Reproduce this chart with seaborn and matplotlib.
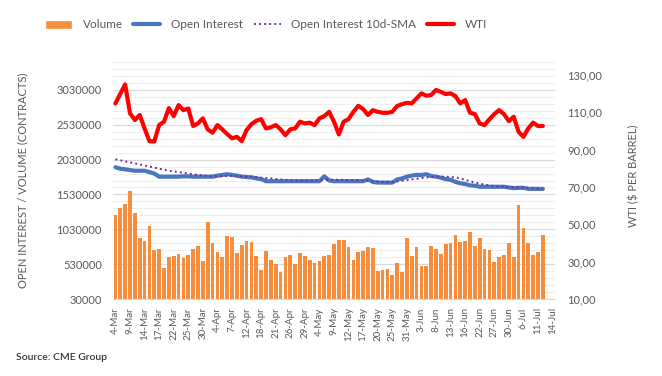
import numpy as np
import pandas as pd
import matplotlib
matplotlib.use('Agg')
import matplotlib.pyplot as plt
from matplotlib.ticker import FixedLocator, FuncFormatter
from matplotlib.lines import Line2D
from matplotlib.patches import Patch
import seaborn as sns

# trading days (CME holidays left out)
holidays = ['2022-04-15', '2022-05-30', '2022-06-20', '2022-07-04']
days = pd.bdate_range('2022-03-04', '2022-07-14', freq='C', holidays=holidays)
dates = [f'{d.day}-{d.strftime("%b")}' for d in days]

volume = [1236000, 1330000, 1390000, 1580000, 1260000, 906000, 860000, 1080000, 730000, 750000,
          470000, 630000, 650000, 680000, 620000, 660000, 750000, 790000, 575000, 1135000,
          830000, 700000, 630000, 930000, 920000, 690000, 805000, 860000, 850000, 650000,
          450000, 720000, 590000, 530000, 420000, 630000, 660000, 530000, 690000, 650000,
          590000, 550000, 575000, 645000, 660000, 815000, 870000, 870000, 770000, 590000,
          700000, 720000, 770000, 757000, 430000, 446000, 456000, 370000, 547000, 420000,
          905000, 650000, 776000, 500000, 500000, 790000, 750000, 676000, 820000, 830000,
          950000, 850000, 860000, 990000, 790000, 905000, 750000, 730000, 560000, 630000,
          660000, 830000, 630000, 1380000, 1050000, 830000, 660000, 700000, 950000]

open_interest = [1920000, 1900000, 1890000, 1880000, 1870000, 1870000, 1870000, 1850000, 1830000, 1785000,
                 1785000, 1785000, 1785000, 1785000, 1790000, 1790000, 1785000, 1785000, 1785000, 1785000,
                 1785000, 1800000, 1810000, 1820000, 1810000, 1800000, 1785000, 1780000, 1775000, 1760000,
                 1750000, 1720000, 1720000, 1720000, 1720000, 1720000, 1720000, 1720000, 1720000, 1720000,
                 1720000, 1720000, 1720000, 1790000, 1730000, 1720000, 1720000, 1720000, 1720000, 1720000,
                 1720000, 1720000, 1745000, 1710000, 1700000, 1700000, 1700000, 1700000, 1745000, 1760000,
                 1785000, 1800000, 1810000, 1810000, 1820000, 1795000, 1785000, 1770000, 1750000, 1740000,
                 1710000, 1690000, 1680000, 1660000, 1655000, 1640000, 1640000, 1640000, 1640000, 1640000,
                 1640000, 1630000, 1620000, 1625000, 1625000, 1610000, 1610000, 1610000, 1610000]

oi_sma = [2035000, 2020000, 2005000, 1990000, 1975000, 1960000, 1945000, 1930000, 1915000, 1900000,
          1885000, 1870000, 1860000, 1850000, 1840000, 1830000, 1820000, 1810000, 1800000, 1795000,
          1790000, 1790000, 1790000, 1795000, 1795000, 1795000, 1790000, 1785000, 1785000, 1780000,
          1770000, 1765000, 1760000, 1750000, 1745000, 1740000, 1735000, 1730000, 1730000, 1730000,
          1730000, 1730000, 1735000, 1740000, 1740000, 1740000, 1740000, 1740000, 1735000, 1735000,
          1735000, 1730000, 1725000, 1720000, 1715000, 1710000, 1710000, 1710000, 1715000, 1725000,
          1735000, 1745000, 1755000, 1765000, 1775000, 1780000, 1785000, 1785000, 1785000, 1780000,
          1775000, 1760000, 1740000, 1720000, 1700000, 1685000, 1670000, 1660000, 1650000, 1645000,
          1640000, 1635000, 1635000, 1630000, 1630000, 1625000, 1620000, 1615000, 1610000]

wti = [114.8, 119.9, 125.0, 109.5, 105.9, 108.6, 101.4, 94.6, 94.4, 103.2,
       105.0, 112.3, 108.0, 113.9, 111.2, 112.1, 102.7, 104.1, 106.8, 100.9,
       99.1, 103.2, 100.9, 98.4, 96.1, 96.9, 94.6, 100.5, 103.7, 105.5,
       106.4, 101.4, 102.0, 103.2, 100.9, 97.8, 100.9, 101.4, 105.0, 104.1,
       104.5, 103.2, 106.8, 108.0, 110.3, 105.0, 98.2, 105.0, 106.4, 110.3,
       113.5, 111.8, 108.6, 111.2, 110.3, 109.8, 109.8, 110.3, 113.4, 114.4,
       115.1, 114.8, 117.5, 120.2, 118.9, 119.3, 122.0, 121.0, 119.8, 120.2,
       118.7, 114.8, 116.6, 109.8, 109.1, 104.1, 103.2, 106.3, 109.1, 111.2,
       109.1, 105.3, 107.7, 99.6, 96.9, 101.4, 104.5, 102.7, 102.7]

c_vol = '#F68D3C'
c_oi = '#4A76C0'
c_sma = '#7030A0'
c_wti = '#FF0000'
c_text = '#595959'

sns.set_style('white')
plt.rcParams['font.family'] = ['Lato', 'DejaVu Sans']

df = pd.DataFrame({'date': dates[:len(volume)], 'volume': volume})
pos = np.arange(len(open_interest))

fig = plt.figure(figsize=(6.62, 3.76), dpi=100)
ax = fig.add_axes([113/662, 1 - 299/376, 442/662, 237/376])

sns.barplot(data=df, x='date', y='volume', order=dates, color=c_vol, saturation=1,
            width=0.74, linewidth=0, ax=ax, zorder=2)
sns.lineplot(x=pos, y=open_interest, color=c_oi, linewidth=3, ax=ax, zorder=3)
sns.lineplot(x=pos, y=oi_sma, color=c_sma, linewidth=1.4, linestyle=(0, (1, 1.6)),
             ax=ax, zorder=4)

ax.set_xlim(-0.5, len(dates) - 0.5)
ax.set_ylim(30000, 3430000)
ax.set_yticks(np.arange(30000, 3030001, 500000))
ax.yaxis.set_major_formatter(FuncFormatter(lambda v, p: f'{int(round(v))}'))
ax.yaxis.set_minor_locator(FixedLocator(np.arange(30000, 3430001, 100000)))
ax.grid(which='major', axis='y', color='#D9D9D9', linewidth=0.9)
ax.grid(which='minor', axis='y', color='#EEEEEE', linewidth=0.8)
ax.set_axisbelow(True)
ax.tick_params(axis='y', which='both', length=0, pad=8, labelsize=8, labelcolor=c_text)

ax.set_xticks(np.arange(0, len(dates), 3))
ax.set_xticklabels(dates[::3], rotation=90, fontsize=7, color=c_text)
ax.xaxis.set_minor_locator(FixedLocator(np.arange(-0.5, len(dates), 1)))
ax.tick_params(axis='x', which='major', length=0, pad=6)
ax.tick_params(axis='x', which='minor', length=3, color='#BFBFBF', width=0.6)
for s in ['top', 'left', 'right']:
    ax.spines[s].set_visible(False)
ax.spines['bottom'].set_color('#D9D9D9')
ax.set_xlabel('')
ax.set_ylabel('OPEN INTEREST / VOLUME (CONTRACTS)', fontsize=8, color=c_text)
ax.yaxis.set_label_coords(-0.192, 0.5)

# WTI on the right axis
ax2 = ax.twinx()
sns.lineplot(x=pos, y=wti, color=c_wti, linewidth=3, ax=ax2)
ax2.set_ylim(10, 137)
ax2.set_yticks(np.arange(10, 131, 20))
ax2.yaxis.set_major_formatter(FuncFormatter(lambda v, p: f'{v:.2f}'.replace('.', ',')))
ax2.tick_params(axis='y', length=0, pad=9, labelsize=8, labelcolor=c_text)
ax2.grid(False)
for s in ax2.spines.values():
    s.set_visible(False)
ax2.set_ylabel('WTI ($ PER BARREL)', fontsize=8, color=c_text)
ax2.yaxis.set_label_coords(1.165, 0.52)

handles = [Patch(facecolor=c_vol),
           Line2D([], [], color=c_oi, linewidth=3),
           Line2D([], [], color=c_sma, linewidth=1.4, linestyle=(0, (1, 1.6))),
           Line2D([], [], color=c_wti, linewidth=3)]
labels = ['Volume', 'Open Interest', 'Open Interest 10d-SMA', 'WTI']
fig.legend(handles, labels, ncol=4, loc='center', bbox_to_anchor=(266/662, 1 - 25/376),
           frameon=False, fontsize=8.5, labelcolor=c_text, handlelength=2.3,
           handletextpad=0.9, columnspacing=0.9, handleheight=0.9)

fig.text(16/662, 1 - 358/376, 'Source: CME Group', fontsize=7.5, fontweight='semibold',
         color='#333333', va='center')

fig.savefig('out.png', dpi=100)
